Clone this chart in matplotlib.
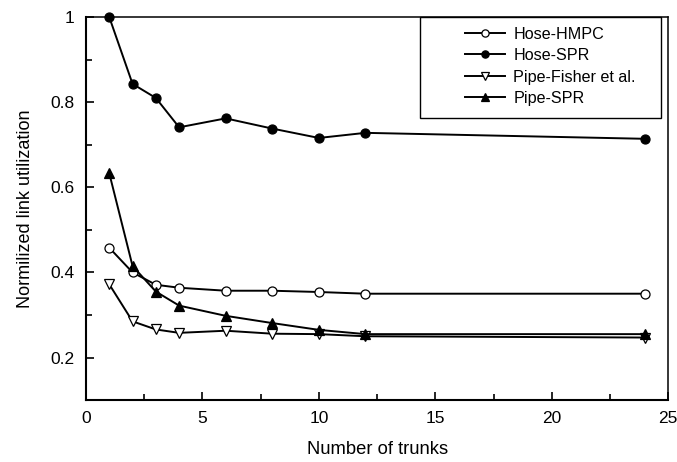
import matplotlib
matplotlib.use("Agg")
import matplotlib.pyplot as plt
from matplotlib.patches import Rectangle
from matplotlib.ticker import MultipleLocator, FuncFormatter

plt.rcParams['font.family'] = ['Liberation Sans', 'DejaVu Sans']

# ---------- data ----------
trunks = [1, 2, 3, 4, 6, 8, 10, 12, 24]
hose_hmpc = [0.458, 0.400, 0.371, 0.364, 0.357, 0.357, 0.354, 0.350, 0.350]
hose_spr = [1.000, 0.843, 0.810, 0.741, 0.762, 0.738, 0.716, 0.728, 0.714]
pipe_fisher = [0.372, 0.285, 0.266, 0.258, 0.263, 0.256, 0.255, 0.250, 0.247]
pipe_spr = [0.633, 0.415, 0.355, 0.322, 0.298, 0.281, 0.265, 0.255, 0.255]

fig = plt.figure(figsize=(6.77, 4.62), dpi=100)
ax = fig.add_axes([0.127, 0.134, 0.86, 0.829])

style = dict(color='black', lw=1.4, markersize=6.5, markeredgewidth=0.9, clip_on=False)
ax.plot(trunks, hose_hmpc, marker='o', markerfacecolor='white', label='Hose-HMPC', zorder=3, **style)
ax.plot(trunks, hose_spr, marker='o', markerfacecolor='black', label='Hose-SPR', zorder=3, **style)
ax.plot(trunks, pipe_fisher, marker='v', markerfacecolor='white', label='Pipe-Fisher et al.', zorder=3, **style)
ax.plot(trunks, pipe_spr, marker='^', markerfacecolor='black', label='Pipe-SPR', zorder=3, **style)

ax.set_xlim(0, 25)
ax.set_ylim(0.1, 1.0)
ax.xaxis.set_major_locator(MultipleLocator(5))
ax.xaxis.set_minor_locator(MultipleLocator(2.5))
ax.yaxis.set_major_locator(MultipleLocator(0.2))
ax.yaxis.set_minor_locator(MultipleLocator(0.1))
ax.yaxis.set_major_formatter(FuncFormatter(lambda v, p: f"{v:g}"))
ax.tick_params(which='both', direction='in', top=False, right=False, labelsize=12.5, pad=8)
ax.tick_params(which='major', length=6, width=1.2)
ax.tick_params(which='minor', length=4, width=1.2)
for s in ax.spines.values():
    s.set_linewidth(1.1)
ax.spines['left'].set_linewidth(1.5)
ax.spines['bottom'].set_linewidth(1.5)

ax.set_xlabel("Number of trunks", fontsize=13.2, labelpad=11)
ax.set_ylabel("Normilized link utilization", fontsize=13, labelpad=12)

# legend box sits against the top spine, entries indented inside it
ax.add_patch(Rectangle((0.574, 0.736), 0.414, 0.264, transform=ax.transAxes,
                       facecolor='white', edgecolor='black', lw=1.0, zorder=2.5, clip_on=False))
leg = ax.legend(loc='upper left', bbox_to_anchor=(0.651, 0.975), fontsize=11.6, frameon=False,
                handlelength=2.5, handletextpad=0.5, borderpad=0, borderaxespad=0,
                labelspacing=0.4, markerscale=0.8)
leg.set_zorder(4)

fig.savefig("out.png", dpi=100)
